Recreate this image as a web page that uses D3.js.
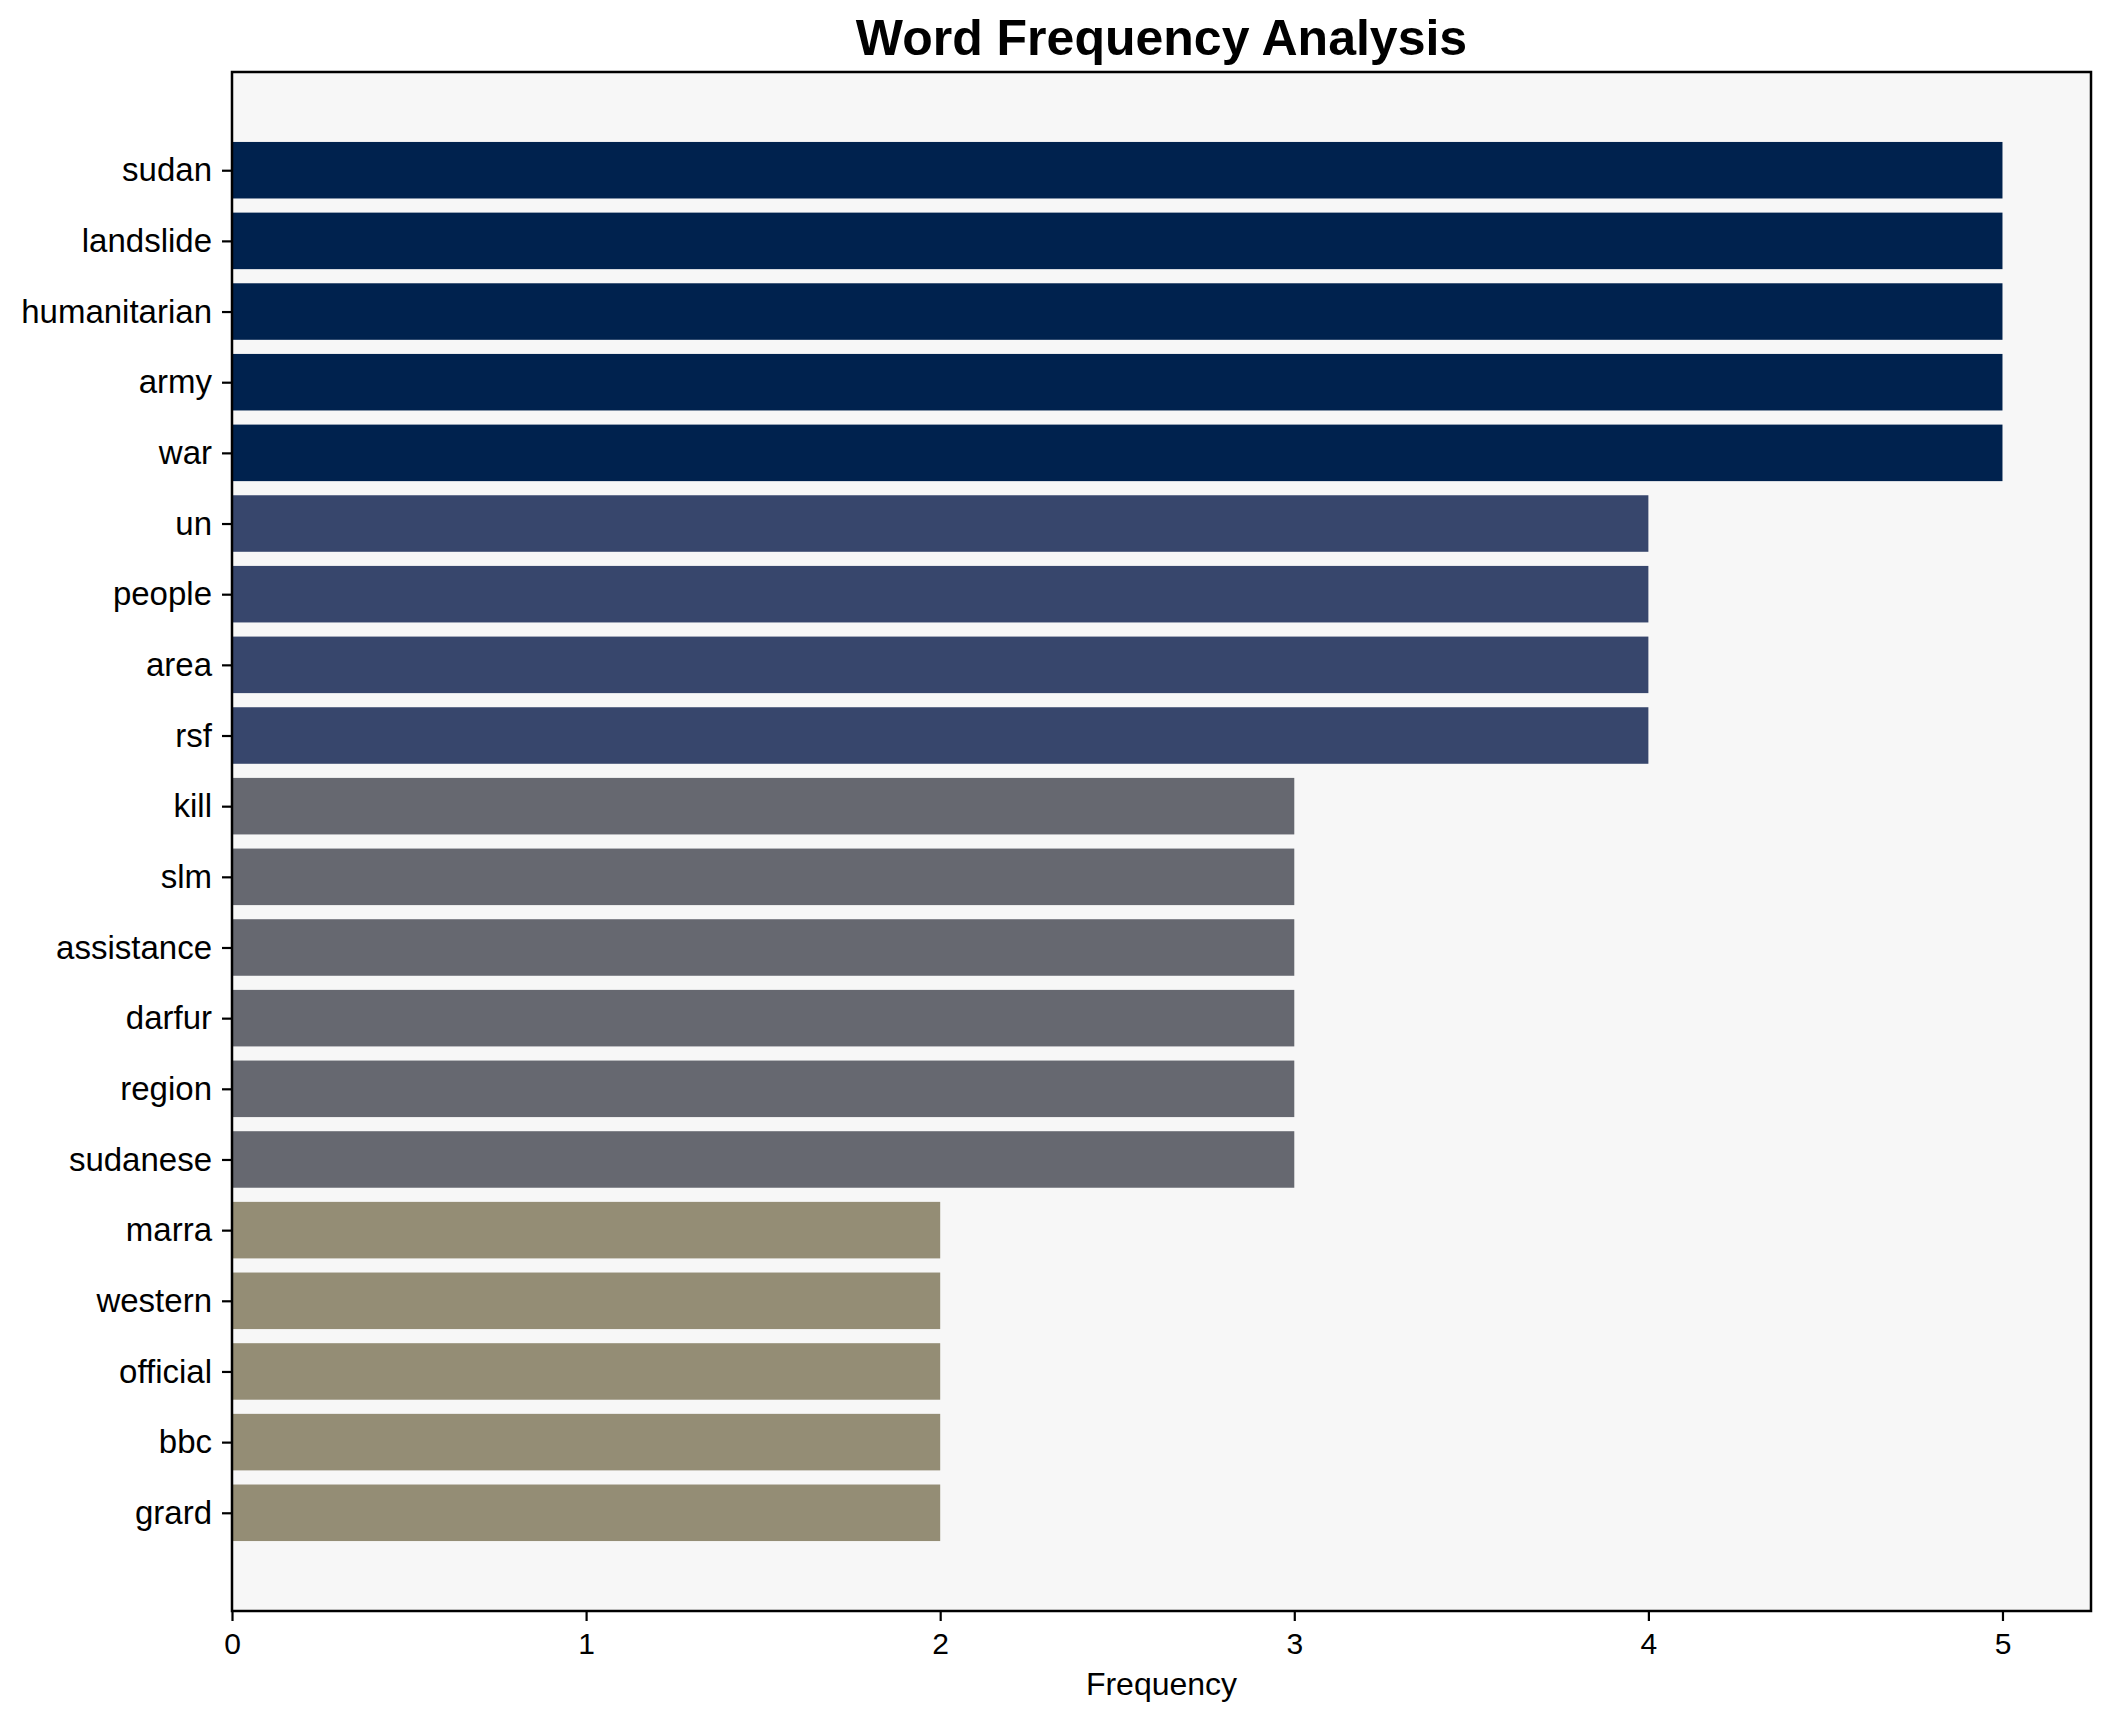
<!DOCTYPE html>
<html lang="en">
<head>
  <meta charset="UTF-8">
  <title>Word Frequency Analysis</title>
  <script src="https://d3js.org/d3.v7.min.js"></script>
  <style>
    body { margin: 0; background: #fff; }
    svg { display: block; font-family: "Liberation Sans", Arial, sans-serif; }
  </style>
</head>
<body>
  <svg width="2112" height="1722"></svg>

  <script>
    // words, top to bottom
    const words = ["sudan", "landslide", "humanitarian", "army", "war",
      "un", "people", "area", "rsf",
      "kill", "slm", "assistance", "darfur", "region", "sudanese",
      "marra", "western", "official", "bbc", "grard"];
    const counts = [5, 5, 5, 5, 5, 4, 4, 4, 4, 3, 3, 3, 3, 3, 3, 2, 2, 2, 2, 2];
    const xTicks = [0, 1, 2, 3, 4, 5];
    const colorByCount = { 5: "#00224e", 4: "#37466c", 3: "#666870", 2: "#948d75" };

    const svg = d3.select("svg");
    const plotL = 232, plotR = 2091, plotT = 72, plotB = 1611;

    const x = d3.scaleLinear().domain([0, 5.25]).range([plotL, plotR]);
    // matplotlib-like margins around bar positions 0..n-1 (height 0.8)
    const n = words.length;
    const lo = -0.4, hi = n - 1 + 0.4, pad = (hi - lo) * 0.05;
    const y = d3.scaleLinear().domain([lo - pad, hi + pad]).range([plotT, plotB]);

    svg.append("rect")
      .attr("x", plotL).attr("y", plotT)
      .attr("width", plotR - plotL).attr("height", plotB - plotT)
      .attr("fill", "#f7f7f7");

    svg.append("g").selectAll("rect")
      .data(words).enter().append("rect")
      .attr("x", x(0))
      .attr("y", (d, i) => y(i - 0.4))
      .attr("width", (d, i) => x(counts[i]) - x(0))
      .attr("height", (d, i) => y(i + 0.4) - y(i - 0.4))
      .attr("fill", (d, i) => colorByCount[counts[i]]);

    // y axis
    const yAxis = d3.axisLeft(y)
      .tickValues(d3.range(n))
      .tickFormat(i => words[i])
      .tickSize(10).tickPadding(10);
    const gy = svg.append("g").attr("transform", `translate(${plotL},0)`).call(yAxis);
    gy.select(".domain").remove();
    gy.selectAll(".tick line").attr("stroke", "#000").attr("stroke-width", 2.2);
    gy.selectAll(".tick text").attr("font-size", 33).attr("fill", "#000")
      .attr("font-family", "'Liberation Sans', Arial, sans-serif");

    // x axis
    const xAxis = d3.axisBottom(x).tickValues(xTicks).tickFormat(d3.format("d"))
      .tickSize(10).tickPadding(12);
    const gx = svg.append("g").attr("transform", `translate(0,${plotB})`).call(xAxis);
    gx.select(".domain").remove();
    gx.selectAll(".tick line").attr("stroke", "#000").attr("stroke-width", 2.2);
    gx.selectAll(".tick text").attr("font-size", 30).attr("fill", "#000")
      .attr("font-family", "'Liberation Sans', Arial, sans-serif");

    // frame
    svg.append("rect")
      .attr("x", plotL).attr("y", plotT)
      .attr("width", plotR - plotL).attr("height", plotB - plotT)
      .attr("fill", "none").attr("stroke", "#000").attr("stroke-width", 2.5);

    svg.append("text")
      .attr("x", (plotL + plotR) / 2).attr("y", 1695)
      .attr("text-anchor", "middle")
      .attr("font-size", 32)
      .text("Frequency");

    svg.append("text")
      .attr("x", (plotL + plotR) / 2).attr("y", 55)
      .attr("text-anchor", "middle")
      .attr("font-size", 50).attr("font-weight", "bold")
      .text("Word Frequency Analysis");
  </script>
</body>
</html>
